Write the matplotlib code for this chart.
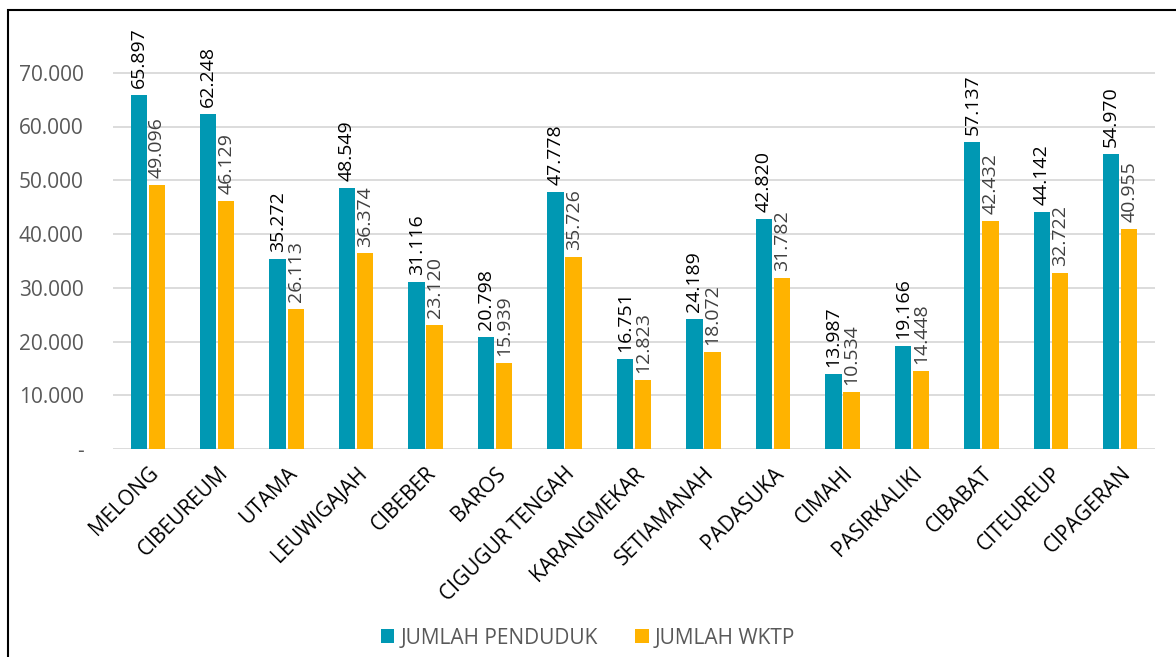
import matplotlib.pyplot as plt
import numpy as np
from matplotlib.patches import Rectangle

plt.rcParams['font.family'] = ['Open Sans', 'DejaVu Sans']

# data
kelurahan = ['MELONG', 'CIBEUREUM', 'UTAMA', 'LEUWIGAJAH', 'CIBEBER', 'BAROS',
             'CIGUGUR TENGAH', 'KARANGMEKAR', 'SETIAMANAH', 'PADASUKA', 'CIMAHI',
             'PASIRKALIKI', 'CIBABAT', 'CITEUREUP', 'CIPAGERAN']
penduduk = [65897, 62248, 35272, 48549, 31116, 20798, 47778, 16751, 24189,
            42820, 13987, 19166, 57137, 44142, 54970]
wktp = [49096, 46129, 26113, 36374, 23120, 15939, 35726, 12823, 18072,
        31782, 10534, 14448, 42432, 32722, 40955]

c_pend = '#0098B3'
c_wktp = '#FFB300'

def fmt(v):
    return f'{v:,}'.replace(',', '.')

fig = plt.figure(figsize=(11.76, 6.57), dpi=100)
ax = fig.add_axes([113/1176, 1 - 449/657, 1042/1176, 430/657])

x = np.arange(len(kelurahan))
w = 0.235
off = 0.13
ax.bar(x - off, penduduk, w, color=c_pend, label='JUMLAH PENDUDUK')
ax.bar(x + off, wktp, w, color=c_wktp, label='JUMLAH WKTP')

for xi, v in zip(x, penduduk):
    ax.annotate(fmt(v), (xi - off, v), xytext=(0, 5), textcoords='offset points',
                rotation=90, ha='center', va='bottom', fontsize=14, color='black')
for xi, v in zip(x, wktp):
    ax.annotate(fmt(v), (xi + off, v), xytext=(0, 5), textcoords='offset points',
                rotation=90, ha='center', va='bottom', fontsize=14, color='#404040')

ax.set_xlim(-0.5, len(kelurahan) - 0.5)
ax.set_ylim(0, 80000)
yt = np.arange(0, 70001, 10000)
ax.set_yticks(yt)
ax.set_yticklabels(['-'] + [fmt(v) for v in yt[1:]], fontsize=15, color='#595959')
ax.set_xticks(x)
ax.set_xticklabels(kelurahan, rotation=45, ha='right', rotation_mode='anchor',
                   fontsize=15, color='black')
ax.tick_params(axis='both', length=0)
ax.tick_params(axis='x', pad=10)
ax.tick_params(axis='y', pad=21)
ax.grid(axis='y', color='#d9d9d9', linewidth=1.3)
ax.set_axisbelow(True)
for s in ax.spines.values():
    s.set_visible(False)

leg = fig.legend(loc='center', bbox_to_anchor=(0.5, 1 - 638/657), ncol=2, frameon=False,
                 fontsize=15, handlelength=0.65, handleheight=0.65, columnspacing=1.8,
                 handletextpad=0.3)
for t in leg.get_texts():
    t.set_color('#595959')

fig.patches.append(Rectangle((8/1176, -0.01), 1.02, 1 - 10/657 + 0.01,
                             transform=fig.transFigure, fill=False,
                             edgecolor='black', linewidth=1.5))

fig.savefig('out.png', dpi=100)
